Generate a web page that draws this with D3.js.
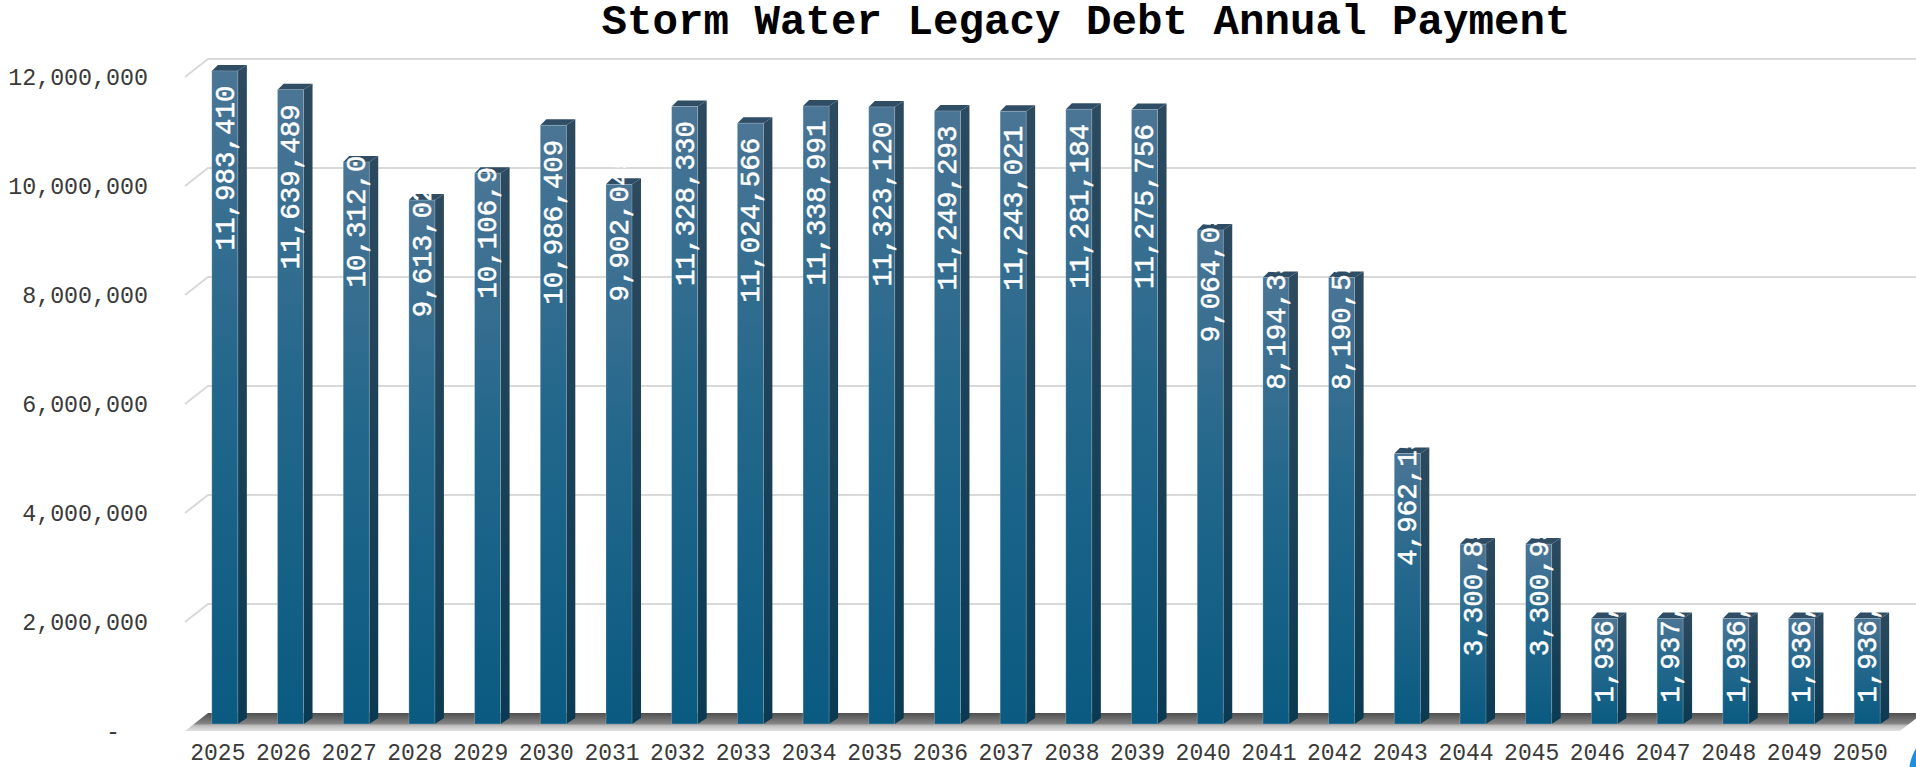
<!DOCTYPE html>
<html>
<head>
<meta charset="utf-8">
<script src="https://cdn.jsdelivr.net/npm/d3@7/dist/d3.min.js"></script>
<style>
  html, body { margin: 0; padding: 0; background: #ffffff; }
  svg { display: block; }
</style>
</head>
<body>
<svg id="chart" width="1916" height="767"></svg>
<script>
// ---- data ----
const title = "Storm Water Legacy Debt Annual Payment";
const years = ["2025","2026","2027","2028","2029","2030","2031","2032","2033","2034","2035","2036","2037","2038","2039","2040","2041","2042","2043","2044","2045","2046","2047","2048","2049","2050"];
const payments = [11983410, 11639489, 10312045, 9613025, 10106950, 10986409, 9902045, 11328330, 11024566, 11338991, 11323120, 11249293, 11243021, 11281184, 11275756, 9064050, 8194350, 8190525, 4962150, 3300850, 3300950, 1936850, 1937650, 1936825, 1936425, 1936275];
const yTicks = [0, 2000000, 4000000, 6000000, 8000000, 10000000, 12000000];
const yTickLabels = ["-\u00a0\u00a0", "2,000,000", "4,000,000", "6,000,000", "8,000,000", "10,000,000", "12,000,000"];

// ---- layout ----
const W = 1916, H = 767;
const svg = d3.select("#chart");
const FONT = "'Liberation Mono', 'Courier New', monospace";

const x = d3.scaleBand().domain(years).range([185, 1893]).padding(0);
const y = d3.scaleLinear().domain([0, 12000000]).range([731, 77]);

const wallDX = 23, wallDY = 18;     // back wall depth
const barShiftX = 7, barShiftY = 7;  // bar front face offset into the floor
const barW = 26, barDX = 9, barDY = 6;

const defs = svg.append("defs");
const gFront = defs.append("linearGradient").attr("id", "gFront").attr("x1", 0).attr("y1", 0).attr("x2", 0).attr("y2", 1);
gFront.append("stop").attr("offset", "0%").attr("stop-color", "#4b7595");
gFront.append("stop").attr("offset", "45%").attr("stop-color", "#24688c");
gFront.append("stop").attr("offset", "100%").attr("stop-color", "#0a5a81");
const gSide = defs.append("linearGradient").attr("id", "gSide").attr("x1", 0).attr("y1", 0).attr("x2", 0).attr("y2", 1);
gSide.append("stop").attr("offset", "0%").attr("stop-color", "#2d4a5f");
gSide.append("stop").attr("offset", "100%").attr("stop-color", "#0a3a52");
const gFloor = defs.append("linearGradient").attr("id", "gFloor").attr("x1", 0).attr("y1", 0).attr("x2", 0).attr("y2", 1);
gFloor.append("stop").attr("offset", "0%").attr("stop-color", "#4f4f4f");
gFloor.append("stop").attr("offset", "58%").attr("stop-color", "#838383");
gFloor.append("stop").attr("offset", "70%").attr("stop-color", "#bdbdbd");
gFloor.append("stop").attr("offset", "100%").attr("stop-color", "#e3e3e3");

// ---- gridlines on back wall ----
const grid = svg.append("g");
yTicks.filter(d => d > 0).forEach(t => {
  const yf = y(t);
  grid.append("path")
    .attr("d", `M${x.range()[0]},${yf} L${x.range()[0] + wallDX},${yf - wallDY} L${W},${yf - wallDY}`)
    .attr("fill", "none").attr("stroke", "#d9d9d9").attr("stroke-width", 2);
});

// ---- floor ----
const fx0 = x.range()[0], fx1 = x.range()[1] + barShiftX, fy = y(0);
svg.append("path")
  .attr("d", `M${fx0},${fy} L${fx0 + wallDX},${fy - wallDY} L${fx1 + wallDX},${fy - wallDY} L${fx1},${fy} Z`)
  .attr("fill", "url(#gFloor)");

// ---- bars ----
const bars = svg.append("g");
years.forEach((yr, i) => {
  const v = payments[i];
  const c = x(yr) + x.bandwidth() / 2;
  const x0 = c + barShiftX - barW / 2, x1 = x0 + barW;
  const top = y(v) - barShiftY, bot = y(0) - barShiftY;
  // side
  bars.append("path")
    .attr("d", `M${x1},${top} L${x1 + barDX},${top - barDY} L${x1 + barDX},${bot - barDY} L${x1},${bot} Z`)
    .attr("fill", "url(#gSide)");
  // top
  bars.append("path")
    .attr("d", `M${x0},${top} L${x0 + 6},${top - barDY} L${x1 + barDX},${top - barDY} L${x1},${top} Z`)
    .attr("fill", "#2f4e65");
  // front
  bars.append("rect")
    .attr("x", x0).attr("y", top).attr("width", barW).attr("height", bot - top)
    .attr("fill", "url(#gFront)")
    .attr("stroke", "rgba(200,215,225,0.35)").attr("stroke-width", 0.8);
});

// ---- data labels ----
const fmt = d3.format(",");
function labelOffset(h) {
  if (h >= 590) return 97;
  if (h >= 500) return 43;
  if (h >= 130) return 38;
  return 10;
}
const labels = svg.append("g");
years.forEach((yr, i) => {
  const v = payments[i];
  const c = x(yr) + x.bandwidth() / 2 + barShiftX;
  const top = y(v) - barShiftY, bot = y(0) - barShiftY;
  const cy = top + labelOffset(bot - top);
  labels.append("text")
    .attr("transform", `translate(${c},${cy}) rotate(-90)`)
    .attr("text-anchor", "middle")
    .attr("dy", "0.32em")
    .attr("font-family", FONT)
    .attr("font-size", "27.5px")
    .attr("fill", "#ffffff")
    .attr("stroke", "#ffffff")
    .attr("stroke-width", 0.5)
    .text(fmt(v));
});

// ---- axes ----
const yAxis = svg.append("g")
  .attr("transform", `translate(${x.range()[0]},0)`)
  .call(d3.axisLeft(y).tickValues(yTicks).tickFormat((d, i) => yTickLabels[i]).tickSize(0).tickPadding(37));
yAxis.select(".domain").remove();
yAxis.selectAll("text")
  .attr("font-family", FONT).attr("font-size", "23.3px").attr("fill", "#3a3a3a");

const xAxis = svg.append("g")
  .attr("transform", `translate(0,${y(0)})`)
  .call(d3.axisBottom(x).tickSize(0).tickPadding(12.5));
xAxis.select(".domain").remove();
xAxis.selectAll("text")
  .attr("font-family", FONT).attr("font-size", "23px").attr("fill", "#3a3a3a");

// ---- title ----
svg.append("text")
  .attr("x", 1086).attr("y", 34)
  .attr("text-anchor", "middle")
  .attr("font-family", FONT)
  .attr("font-weight", "bold")
  .attr("font-size", "42.5px")
  .attr("fill", "#000000")
  .text(title);

// ---- corner decoration ----
svg.append("circle")
  .attr("cx", 1955).attr("cy", 773).attr("r", 46)
  .attr("fill", "#1e8fe0");
</script>
</body>
</html>
